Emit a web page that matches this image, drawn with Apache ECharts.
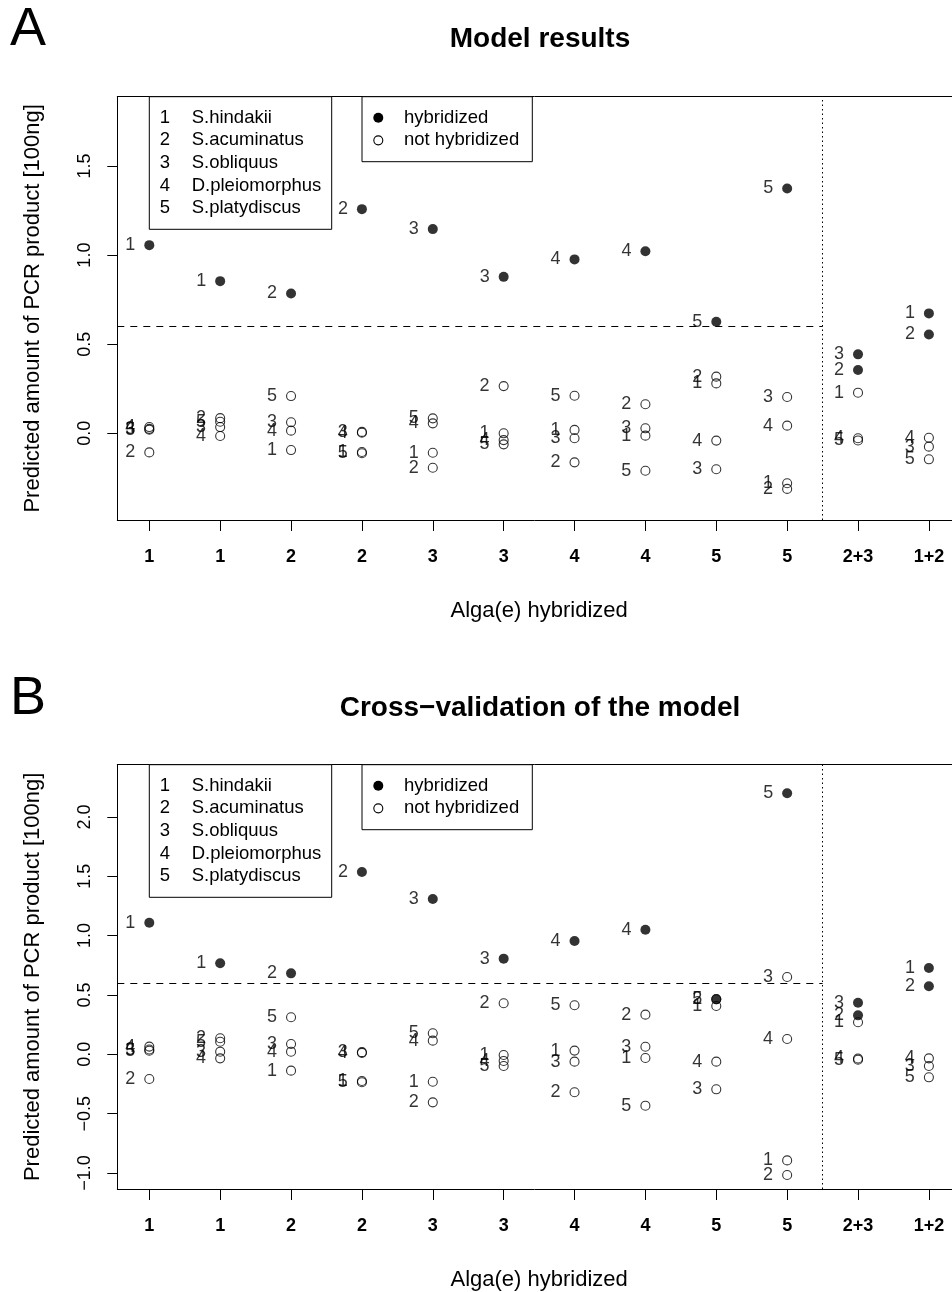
<!DOCTYPE html>
<html><head><meta charset="utf-8">
<script src="https://cdn.jsdelivr.net/npm/echarts@6/dist/echarts.min.js"></script>
<style>html,body{margin:0;padding:0;background:#fff}#c{width:952px;height:1292px}</style>
</head><body><div id="c"></div>
<script>
// ---------- data ----------
const xLabels = ['1','1','2','2','3','3','4','4','5','5','2+3','1+2'];
const speciesNames = ['S.hindakii','S.acuminatus','S.obliquus','D.pleiomorphus','S.platydiscus'];
const hybridizedIn = [[1],[1],[2],[2],[3],[3],[4],[4],[5],[5],[2,3],[1,2]];
const statusLabels = ['hybridized','not hybridized'];
const panelTitles = ['Model results','Cross\u2212validation of the model'];
const panelLetters = ['A','B'];
const xAxisTitle = 'Alga(e) hybridized';
const yAxisTitle = 'Predicted amount of PCR product [100ng]';
const threshold = 0.6;
const separator = 10.5;

const modelSp1 = [1.056,0.854,-0.094,-0.105,-0.109,0.000,0.019,-0.013,0.280,-0.280,0.228,0.673];
const modelSp2 = [-0.107,0.085,0.785,1.258,-0.193,0.265,-0.163,0.163,0.318,-0.312,0.355,0.555];
const modelSp3 = [0.025,0.035,0.062,0.008,1.146,0.878,-0.028,0.028,-0.202,0.204,0.443,-0.075];
const modelSp4 = [0.035,-0.015,0.015,0.003,0.056,-0.038,0.976,1.022,-0.041,0.043,-0.028,-0.025];
const modelSp5 = [0.020,0.065,0.209,-0.112,0.084,-0.062,0.211,-0.210,0.626,1.374,-0.040,-0.146];

const cvSp1 = [1.109,0.767,-0.138,-0.225,-0.231,-0.006,0.031,-0.031,0.407,-0.894,0.270,0.727];
const cvSp2 = [-0.208,0.135,0.682,1.536,-0.405,0.430,-0.320,0.334,0.465,-1.017,0.328,0.573];
const cvSp3 = [0.040,0.022,0.087,0.018,1.309,0.806,-0.062,0.064,-0.295,0.651,0.435,-0.099];
const cvSp4 = [0.065,-0.034,0.022,0.012,0.115,-0.056,0.955,1.050,-0.062,0.129,-0.035,-0.034];
const cvSp5 = [0.030,0.106,0.312,-0.235,0.177,-0.099,0.413,-0.433,0.463,2.199,-0.045,-0.194];

const yTicksA = [0, 0.5, 1, 1.5];
const yTicksB = [-1, -0.5, 0, 0.5, 1, 1.5, 2];

// ---------- layout ----------
const FONT = '"Liberation Sans", Arial, Helvetica, sans-serif';
const GRID_LEFT = 117.3, GRID_WIDTH = 952 - 117.3;
const X_MIN = 0.5485, X_MAX = 12.326;   // plot region continues past the right edge of the page
const panels = [
  { top: 96.7, height: 423.3, yMin: -0.4865, yMax: 1.889, ticks: yTicksA,
    values: [modelSp1, modelSp2, modelSp3, modelSp4, modelSp5], titleY: 39, letterY: 30 },
  { top: 764.7, height: 424.3, yMin: -1.135, yMax: 2.44, ticks: yTicksB,
    values: [cvSp1, cvSp2, cvSp3, cvSp4, cvSp5], titleY: 708, letterY: 699 }
];
const xTickValues = xLabels.map((_, i) => i + 1);
const fmtNum = v => v.toFixed(1).replace('-', '\u2212');

const grid = panels.map(p => ({
  left: GRID_LEFT, top: p.top, width: GRID_WIDTH, height: p.height, show: false
}));

const xAxis = [];
panels.forEach((p, i) => {
  xAxis.push({
    type: 'value', gridIndex: i, min: X_MIN, max: X_MAX, position: 'bottom',
    axisLine: { show: true, onZero: false, lineStyle: { color: '#000', width: 1 } },
    axisTick: { show: true, customValues: xTickValues, length: 11, lineStyle: { color: '#000', width: 1 } },
    axisLabel: { customValues: xTickValues, formatter: v => xLabels[Math.round(v) - 1],
      margin: 28, fontSize: 18, fontWeight: 'bold', color: '#000', fontFamily: FONT },
    splitLine: { show: false },
    name: xAxisTitle, nameLocation: 'middle', nameGap: 80,
    nameTextStyle: { fontSize: 22, color: '#000', fontFamily: FONT, padding: [0, 0, 0, 9] }
  });
  // top frame line of the plot box
  xAxis.push({
    type: 'value', gridIndex: i, min: X_MIN, max: X_MAX, position: 'top',
    axisLine: { show: true, onZero: false, lineStyle: { color: '#000', width: 1 } },
    axisTick: { show: false }, axisLabel: { show: false }, splitLine: { show: false }
  });
});

const yAxis = panels.map((p, i) => ({
  type: 'value', gridIndex: i, min: p.yMin, max: p.yMax,
  axisLine: { show: true, onZero: false, lineStyle: { color: '#000', width: 1 } },
  axisTick: { show: true, customValues: p.ticks, length: 10, lineStyle: { color: '#000', width: 1 } },
  axisLabel: { customValues: p.ticks, formatter: fmtNum, rotate: 90,
    margin: 23, fontSize: 18, color: '#000', fontFamily: FONT },
  splitLine: { show: false },
  name: yAxisTitle, nameLocation: 'middle', nameGap: 73, nameRotate: 90,
  nameTextStyle: { fontSize: 22, color: '#000', fontFamily: FONT }
}));

const series = [];
panels.forEach((p, pi) => {
  const xi = pi * 2;
  p.values.forEach((vals, si) => {
    series.push({
      type: 'scatter', xAxisIndex: xi, yAxisIndex: pi, silent: true, z: 3,
      symbol: 'circle',
      data: vals.map((v, ci) => {
        const hyb = hybridizedIn[ci].includes(si + 1);
        return {
          value: [ci + 1, v],
          symbolSize: hyb ? 10 : 9,
          itemStyle: hyb ? { color: '#000', borderWidth: 0 }
                         : { color: 'rgba(0,0,0,0)', borderColor: '#000', borderWidth: 1.1 }
        };
      }),
      label: { show: true, position: 'left', distance: 9, formatter: String(si + 1),
        fontSize: 18, color: '#000', fontFamily: FONT },
      emphasis: { disabled: true }
    });
  });
  series.push({
    type: 'line', xAxisIndex: xi, yAxisIndex: pi, data: [], silent: true,
    markLine: {
      silent: true, symbol: ['none', 'none'], label: { show: false },
      lineStyle: { color: '#000', width: 1 },
      emphasis: { disabled: true },
      data: [
        [{ coord: [X_MIN, threshold], lineStyle: { type: [7, 6], color: '#000', width: 1 } },
         { coord: [separator, threshold] }],
        { xAxis: separator, lineStyle: { type: [1.5, 3], color: '#000', width: 1 } }
      ]
    }
  });
});

const graphic = [];
panels.forEach((p, pi) => {
  graphic.push({ type: 'text', x: 28, y: p.letterY,
    style: { text: panelLetters[pi], font: '54px ' + FONT, fill: '#000', align: 'center', verticalAlign: 'middle' } });
  graphic.push({ type: 'text', x: 540, y: p.titleY,
    style: { text: panelTitles[pi], font: 'bold 28px ' + FONT, fill: '#000', align: 'center', verticalAlign: 'middle' } });
  const T = p.top;
  graphic.push({ type: 'rect', z: 10, shape: { x: 149.3, y: T, width: 182.4, height: 132.6 },
    style: { fill: '#fff', stroke: '#000', lineWidth: 1 } });
  speciesNames.forEach((name, i) => {
    const y = T + 21 + i * 22.65;
    graphic.push({ type: 'text', z: 11, x: 165, y: y,
      style: { text: String(i + 1), font: '18.5px ' + FONT, fill: '#000', align: 'center', verticalAlign: 'middle' } });
    graphic.push({ type: 'text', z: 11, x: 191.7, y: y,
      style: { text: name, font: '18.5px ' + FONT, fill: '#000', align: 'left', verticalAlign: 'middle' } });
  });
  graphic.push({ type: 'rect', z: 10, shape: { x: 362, y: T, width: 170.3, height: 65 },
    style: { fill: '#fff', stroke: '#000', lineWidth: 1 } });
  statusLabels.forEach((lab, i) => {
    const y = T + 21 + i * 22.65;
    graphic.push({ type: 'circle', z: 11, shape: { cx: 378.3, cy: y, r: i === 0 ? 5 : 4.5 },
      style: i === 0 ? { fill: '#000' } : { fill: 'none', stroke: '#000', lineWidth: 1.1 } });
    graphic.push({ type: 'text', z: 11, x: 404, y: y,
      style: { text: lab, font: '18.5px ' + FONT, fill: '#000', align: 'left', verticalAlign: 'middle' } });
  });
});

const chart = echarts.init(document.getElementById('c'), null, { renderer: 'canvas' });
chart.setOption({
  animation: false,
  backgroundColor: '#fff',
  grid, xAxis, yAxis, series, graphic
});
</script></body></html>
